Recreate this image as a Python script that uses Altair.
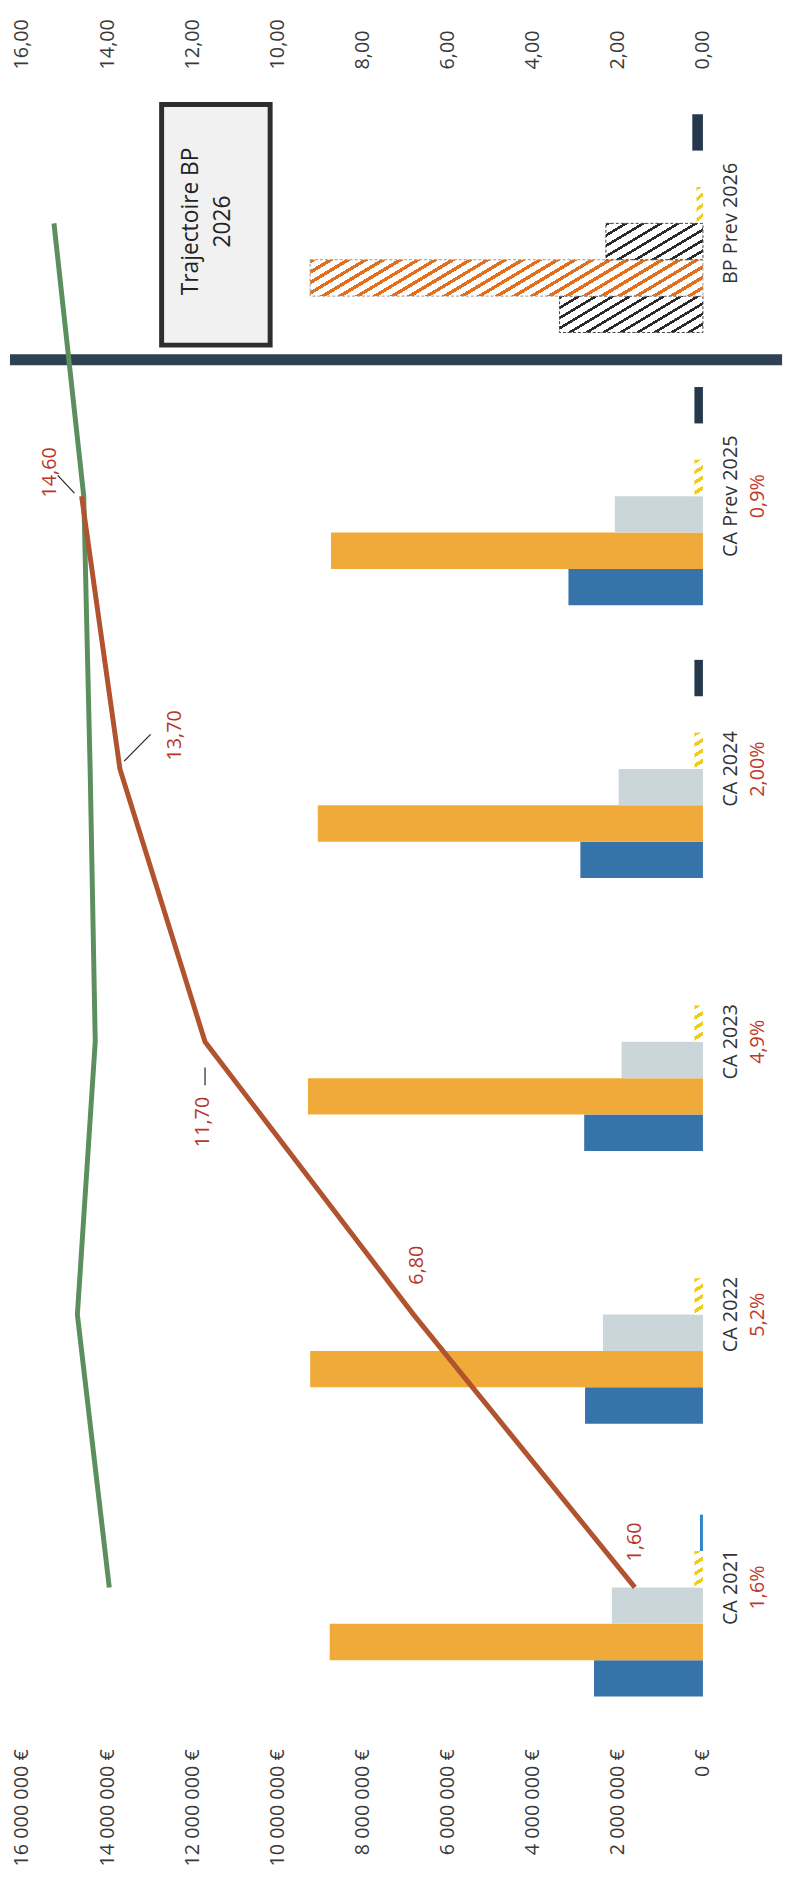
import math
import altair as alt
import pandas as pd

# ---------------- data (values in millions of euros / right-axis units) ----------------
CATEGORIES = ["CA 2021", "CA 2022", "CA 2023", "CA 2024", "CA Prev 2025", "BP Prev 2026"]
PERCENTS = ["1,6%", "5,2%", "4,9%", "2,00%", "0,9%", ""]
SERIES_1 = [2.56, 2.77, 2.79, 2.88, 3.16, 3.37]   # blue
SERIES_2 = [8.77, 9.23, 9.28, 9.05, 8.74, 9.23]   # orange
SERIES_3 = [2.14, 2.35, 1.91, 1.98, 2.07, 2.28]   # light grey
SERIES_4 = [0.20, 0.20, 0.20, 0.20, 0.20, 0.15]   # yellow hatched
SERIES_5 = [0.07, 0.0, 0.0, 0.0, 0.0, 0.0]        # thin light blue
SERIES_6 = [0.0, 0.0, 0.0, 0.20, 0.20, 0.25]      # navy
RED_LINE = [1.60, 6.80, 11.70, 13.70, 14.60]
RED_LABELS = ["1,60", "6,80", "11,70", "13,70", "14,60"]
GREEN_LINE = [13.95, 14.70, 14.28, 14.40, 14.55, 15.25]
TICKS = [0, 2, 4, 6, 8, 10, 12, 14, 16]
BOX_TEXT = ["Trajectoire BP", "2026"]

SERIES_NAMES = ["Série 1", "Série 2", "Série 3", "Série 4", "Série 5", "Série 6"]
SERIES_VALUES = [SERIES_1, SERIES_2, SERIES_3, SERIES_4, SERIES_5, SERIES_6]

# ---------------- layout / style ----------------
W, H = 782, 1682
X_MIN, X_MAX = -1.86, 16.33
PX_PER_UNIT = W / (X_MAX - X_MIN)
PAD_IN, PAD_OUT = 0.2, 0.1515
STEP = H / (len(CATEGORIES) - PAD_IN + 2 * PAD_OUT)
SLOT_PX = STEP * (1 - PAD_IN) / 6
SEP_Y = STEP * (PAD_OUT + 1 - PAD_IN / 2)

COLORS = {"Série 1": "#3673AA", "Série 2": "#EFAA3A", "Série 3": "#CBD6DB",
          "Série 4": "#F0CF22", "Série 5": "#2F86C6", "Série 6": "#26384C"}
GREEN_C = "#5B8F5E"
RED_C = "#B0532E"
LABEL_RED = "#B8352A"
SEP_C = "#2F4253"
TEXT_C = "#333333"
FONT = "Open Sans"
FS = 20

# slot order inside each category group, top -> bottom on screen
SLOT_ORDER = ["Série 6", "Série 5", "Série 4", "Série 3", "Série 2", "Série 1"]
CAT_ORDER = list(reversed(CATEGORIES))


def cat_center(cat):
    k = CAT_ORDER.index(cat)
    return STEP * (PAD_OUT + k + (1 - PAD_IN) / 2)


xs = alt.Scale(domain=[X_MIN, X_MAX], reverse=True, nice=False, zero=False)
ys = alt.Scale(domain=CAT_ORDER, paddingInner=PAD_IN, paddingOuter=PAD_OUT)
yos = alt.Scale(domain=SLOT_ORDER, paddingInner=0, paddingOuter=0)

bottom_axis = alt.Axis(orient="bottom", values=TICKS,
                       labelExpr="datum.value == 0 ? '0 €' : datum.value + ' 000 000 €'",
                       labelAngle=270, labelAlign="right", labelBaseline="middle",
                       labelPadding=11, labelFontSize=FS, labelColor="#3a3a3a",
                       labelFont=FONT, domain=False, ticks=False, grid=False, title=None,
                       labelOverlap=False, labelFlush=False, labelBound=False)
top_axis = alt.Axis(orient="top", values=TICKS,
                    labelExpr="replace(format(datum.value, '.2f'), '.', ',')",
                    labelAngle=270, labelAlign="left", labelBaseline="middle",
                    labelPadding=4, labelFontSize=FS, labelColor="#3a3a3a",
                    labelFont=FONT, domain=False, ticks=False, grid=False, title=None,
                    labelOverlap=False, labelFlush=False, labelBound=False)


def hatch(color, value, period=9.0, lw=2.6, slope=0.6, bg="#ffffff"):
    w = max(value * PX_PER_UNIT, 1.0)
    h = SLOT_PX
    r = h / (slope * w)
    k = (1 + r) / (1 + r * r)
    g = math.sqrt(1 / w ** 2 + (r / h) ** 2)
    extent = (1 + r) / g
    n = max(1, int(round(extent / period)))
    frac = min(0.85, lw / (extent / n))
    stops = []
    for i in range(n):
        a, b, c = i / n, (i + frac) / n, (i + 1) / n
        stops += [(a, color), (b, color), (b, bg), (c, bg)]
    return alt.LinearGradient(
        gradient="linear",
        stops=[alt.GradientStop(offset=round(o, 5), color=col) for o, col in stops],
        x1=0, y1=0, x2=k, y2=k * r)


rows = []
for si, name in enumerate(SERIES_NAMES):
    for ci, cat in enumerate(CATEGORIES):
        rows.append({"cat": cat, "series": name, "value": SERIES_VALUES[si][ci]})
bars = pd.DataFrame(rows)

BP = CATEGORIES[-1]
solid = bars[((bars.series.isin(["Série 1", "Série 2", "Série 3"])) & (bars.cat != BP))
             | (bars.series.isin(["Série 5", "Série 6"]))]
solid = solid[solid.value > 0]


def bar_enc(axis=None):
    return dict(
        x=alt.X("value:Q", scale=xs, axis=axis, stack=None),
        y=alt.Y("cat:N", scale=ys, axis=None),
        yOffset=alt.YOffset("series:N", scale=yos),
    )


layers = []
layers.append(
    alt.Chart(solid).mark_bar().encode(
        color=alt.Color("series:N", scale=alt.Scale(domain=list(COLORS.keys()),
                                                     range=list(COLORS.values())),
                        legend=None),
        **bar_enc(bottom_axis))
)

# yellow hatched small bars
yel = bars[bars.series == "Série 4"]
layers.append(alt.Chart(yel).mark_bar(fill=hatch("#EFCB1A", 0.2, period=10, lw=3.5)).encode(**bar_enc()))

# BP Prev 2026 hatched bars
bp_styles = {"Série 1": ("#2A2A2A", "#444444"), "Série 2": ("#E36E1C", "#999999"),
             "Série 3": ("#2A2A2A", "#444444")}
for sname, (hc, sc) in bp_styles.items():
    d = bars[(bars.cat == BP) & (bars.series == sname)]
    v = float(d.value.iloc[0])
    layers.append(
        alt.Chart(d).mark_bar(fill=hatch(hc, v, lw=2.6 if hc == "#2A2A2A" else 3.4),
                              stroke=sc, strokeDash=[3, 2], strokeWidth=1).encode(**bar_enc())
    )

# separator between actuals and the budget projection
sep = pd.DataFrame({"a": [0]})
layers.append(
    alt.Chart(sep).mark_rule(color=SEP_C, strokeWidth=11).encode(
        y=alt.value(SEP_Y), x=alt.value(2), x2=alt.value(W))
)

# green line
green = pd.DataFrame({"cat": CATEGORIES, "value": GREEN_LINE, "idx": range(len(CATEGORIES))})
layers.append(
    alt.Chart(green).mark_line(color=GREEN_C, strokeWidth=5).encode(
        x=alt.X("value:Q", scale=xs, axis=top_axis),
        y=alt.Y("cat:N", scale=ys, axis=None),
        order=alt.Order("idx:Q"))
)

# red line
red = pd.DataFrame({"cat": CATEGORIES[:5], "value": RED_LINE, "idx": range(5),
                    "label": RED_LABELS})
layers.append(
    alt.Chart(red).mark_line(color=RED_C, strokeWidth=5).encode(
        x=alt.X("value:Q", scale=xs, axis=None),
        y=alt.Y("cat:N", scale=ys, axis=None),
        order=alt.Order("idx:Q"))
)

# red line labels (screen offsets, text is rotated)
LABEL_OFFSETS = [(0, -46), (4, -50), (-2, 81), (56, -34), (-32, -24)]
for i, (sx, sy) in enumerate(LABEL_OFFSETS):
    d = red.iloc[[i]]
    layers.append(
        alt.Chart(d).mark_text(angle=270, align="center", baseline="middle",
                               dx=-sy, dy=sx, fontSize=FS, font=FONT,
                               color=LABEL_RED).encode(
            x=alt.X("value:Q", scale=xs, axis=None),
            y=alt.Y("cat:N", scale=ys, axis=None),
            text="label:N")
    )

# small leader lines from three labels to their points (value span, pixel offsets from point)
LEADERS = [(2, 11.70, 11.70, 26, 44), (3, 13.60, 12.98, -8, -35), (4, 14.77, 15.16, -3, -21)]
for idx, v1, v2, o1, o2 in LEADERS:
    cy = cat_center(CATEGORIES[idx])
    layers.append(
        alt.Chart(sep).mark_rule(color="#222222", strokeWidth=1.2).encode(
            x=alt.XDatum(v1, axis=None), x2=alt.datum(v2),
            y=alt.value(cy + o1), y2=alt.value(cy + o2))
    )

# category labels (rotated), with growth percentage underneath
cats = pd.DataFrame({"cat": CATEGORIES, "pct": PERCENTS})
layers.append(
    alt.Chart(cats).mark_text(angle=270, align="center", baseline="middle",
                              fontSize=FS, font=FONT, color=TEXT_C).encode(
        x=alt.XDatum(-0.67, axis=None),
        y=alt.Y("cat:N", scale=ys, axis=None),
        text="cat:N")
)
layers.append(
    alt.Chart(cats[cats.pct != ""]).mark_text(angle=270, align="center", baseline="middle",
                                              fontSize=FS, font=FONT, color="#C0392B").encode(
        x=alt.XDatum(-1.30, axis=None),
        y=alt.Y("cat:N", scale=ys, axis=None),
        text="pct:N")
)

# annotation box
box = pd.DataFrame({"a": [0]})
layers.append(
    alt.Chart(box).mark_rect(fill="#F1F1F1", stroke="#2E2E2E", strokeWidth=5).encode(
        x=alt.XDatum(12.72, axis=None), x2=alt.datum(10.17),
        y=alt.value(32), y2=alt.value(275))
)
for txt, xv in zip(BOX_TEXT, [12.03, 11.28]):
    layers.append(
        alt.Chart(box).mark_text(text=txt, angle=270, align="center", baseline="middle",
                                 fontSize=23, font=FONT, color="#222222").encode(
            x=alt.XDatum(xv, axis=None), y=alt.value(150))
    )

chart = alt.layer(*layers).resolve_axis(x="independent").properties(
    width=W, height=H,
    padding={"left": 0, "top": 56, "right": 8, "bottom": 134},
    autosize=alt.AutoSizeParams(type="none"),
    background="white",
).configure(font=FONT).configure_view(stroke=None)

chart.save("out.html", embed_options={"renderer": "svg", "actions": False})
